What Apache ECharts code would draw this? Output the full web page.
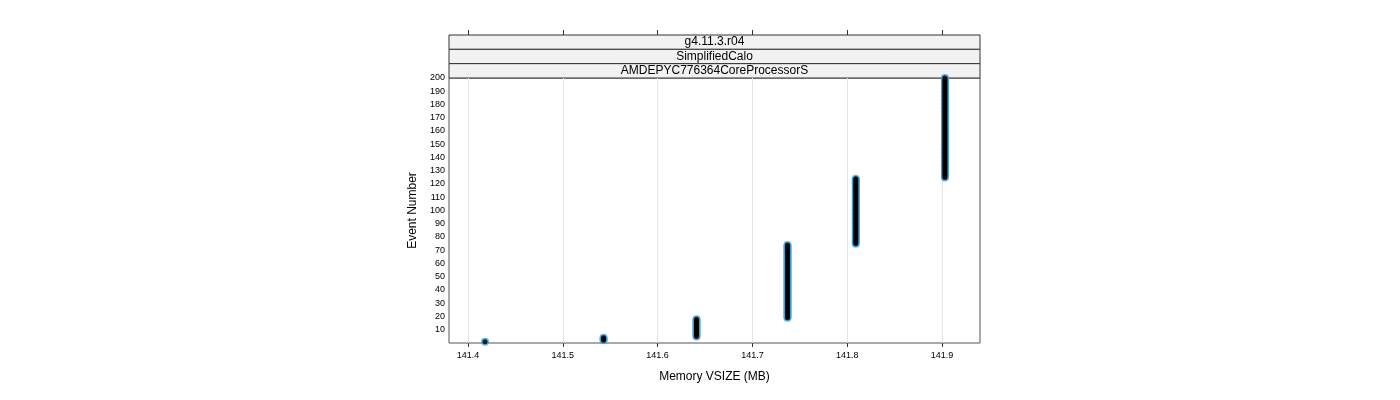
<!DOCTYPE html>
<html><head><meta charset="utf-8">
<script src="https://cdn.jsdelivr.net/npm/echarts@6/dist/echarts.min.js"></script>
<style>html,body{margin:0;padding:0;background:#fff}#c{width:1400px;height:400px}</style>
</head><body><div id="c"></div>
<script>
const memVsize = [141.418, 141.543, 141.641, 141.737, 141.809, 141.903];
const eventStart = [1, 2, 5, 19, 75, 125];
const eventEnd = [1, 4, 18, 74, 124, 200];
const stripLabels = ['g4.11.3.r04', 'SimplifiedCalo', 'AMDEPYC776364CoreProcessorS'];
const xTicks = [141.4, 141.5, 141.6, 141.7, 141.8, 141.9];

const pts = [];
memVsize.forEach((v, i) => { for (let e = eventStart[i]; e <= eventEnd[i]; e++) pts.push([v, e]); });

const chart = echarts.init(document.getElementById('c'));
const L = 449, R = 980, T = 78, B = 343;
const stripH = (T - 35) / 3;
const graphics = [];
stripLabels.forEach((s, i) => {
  graphics.push({type:'rect', shape:{x:L, y:35 + i*stripH, width:R-L, height:stripH},
    style:{fill:'#f2f2f2', stroke:'#333', lineWidth:1}});
  graphics.push({type:'text', x:(L+R)/2, y:35 + i*stripH + stripH/2,
    style:{text:s, textAlign:'center', textVerticalAlign:'middle', font:'12px "Liberation Sans", Arial', fill:'#000'}});
});
const fmt = v => xTicks.some(t => Math.abs(t - v) < 1e-6) ? v.toFixed(1) : '';
chart.setOption({
  animation:false,
  grid:{left:L, right:1400-R, top:T, bottom:400-B, show:true, borderColor:'#555', borderWidth:1},
  xAxis:[{type:'value', min:141.38, max:141.94, interval:0.1, position:'bottom',
    name:'Memory VSIZE (MB)', nameLocation:'middle', nameGap:28,
    nameTextStyle:{fontSize:12, color:'#000', fontFamily:'Liberation Sans'},
    axisLine:{show:false}, axisTick:{show:true, length:4, lineStyle:{color:'#333'}, customValues:xTicks},
    axisLabel:{fontSize:9, color:'#000', fontFamily:'Liberation Sans', customValues:xTicks, formatter:fmt},
    splitLine:{show:true, lineStyle:{color:'#e6e6e6'}}},
   {type:'value', min:141.38, max:141.94, position:'top', offset:43,
    axisLine:{show:false}, axisTick:{show:true, inside:false, length:5, lineStyle:{color:'#333'}, customValues:xTicks},
    axisLabel:{show:false, customValues:xTicks}, splitLine:{show:false}}],
  yAxis:{type:'value', min:0, max:200, interval:10,
    name:'Event Number', nameLocation:'middle', nameGap:30,
    nameTextStyle:{fontSize:12, color:'#000', fontFamily:'Liberation Sans'},
    axisLine:{show:false}, axisTick:{show:false},
    axisLabel:{fontSize:9, color:'#000', fontFamily:'Liberation Sans', margin:4, formatter:v => v===0?'':v},
    splitLine:{show:false}},
  graphic:graphics,
  series:[
    {type:'scatter', data:pts, symbol:'circle', symbolSize:8, itemStyle:{color:'#3fa0d0'}},
    {type:'scatter', data:pts, symbol:'circle', symbolSize:5, itemStyle:{color:'#000'}}
  ]
});
</script></body></html>
